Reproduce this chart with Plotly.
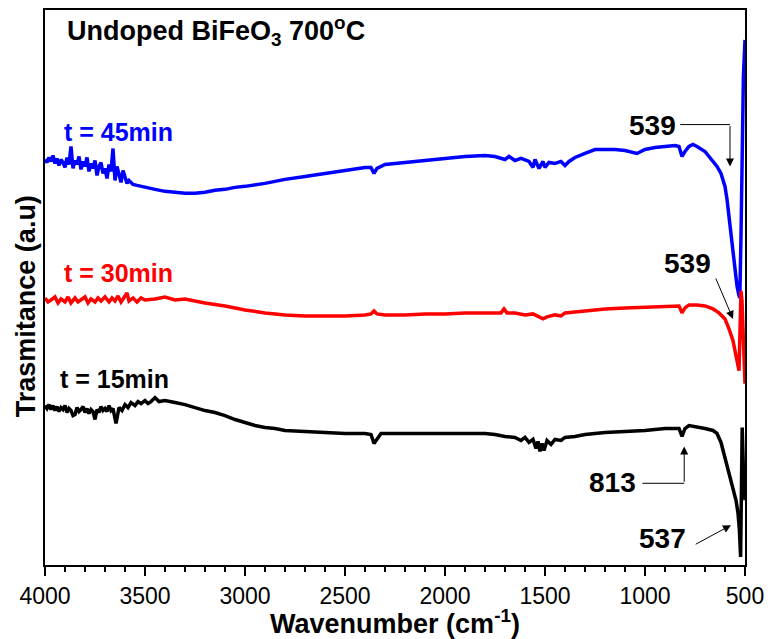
import plotly.graph_objects as go

# Wavenumber (cm^-1) and transmittance (a.u., offset traces)
wn_45 = [4000, 3990, 3980, 3970, 3960, 3950, 3940, 3930, 3920, 3910, 3900, 3890, 3880, 3870, 3860,
         3850, 3840, 3830, 3820, 3810, 3800, 3790, 3780, 3770, 3760, 3750, 3740, 3730, 3720, 3710,
         3700, 3690, 3680, 3670, 3660, 3650, 3640, 3630, 3620, 3610, 3600, 3590, 3580, 3560, 3540,
         3500, 3450, 3400, 3350,
         3300, 3250, 3200, 3150, 3100, 3050, 3000, 2900, 2800, 2700, 2600, 2500, 2400, 2370, 2355,
         2340, 2300, 2200, 2100, 2000, 1900, 1800, 1750, 1700, 1680, 1650, 1620, 1580, 1560, 1550,
         1530, 1510, 1500, 1480, 1450, 1420, 1400, 1380, 1350, 1300, 1250, 1200, 1150, 1100, 1060,
         1040, 1000, 950, 900, 850, 830, 815, 800, 780, 760, 740, 700, 680, 660, 640, 620, 600,
         590, 580, 570, 560, 550, 540, 532, 526, 520, 514, 508, 500]
t_45 = [407, 404, 409, 405, 411, 403, 408, 401, 407, 404, 399, 409, 402, 420, 398,
        406, 402, 410, 397, 405, 400, 409, 395, 403, 398, 406, 391, 400, 404, 393,
        398, 388, 402, 395, 418, 386, 400, 390, 384, 396, 389, 383, 386, 382, 381,
        379, 377, 375, 374,
        373, 373, 374, 376, 377, 379, 380, 383, 387, 390, 393, 396, 399, 399, 393,
        398, 402, 404, 406, 408, 410, 411, 410, 407, 410, 406, 408, 405, 399, 407,
        398, 405, 399, 404, 403, 405, 401, 405, 409, 413, 417, 417, 417, 416, 414,
        413, 417, 419, 420, 421, 420, 410, 415, 420, 422, 420, 415, 410, 405, 400, 393, 380,
        367, 350, 330, 310, 293, 280, 272, 268, 330, 420, 490, 527]

wn_30 = [4000, 3985, 3970, 3950, 3935, 3920, 3900, 3885, 3870, 3850, 3835, 3820, 3800, 3785, 3770,
         3750, 3735, 3720, 3700, 3680, 3665, 3650, 3635, 3620, 3600, 3590, 3580, 3560, 3540, 3520,
         3500, 3450, 3400, 3350, 3300, 3250, 3200, 3100, 3000,
         2900, 2800, 2700, 2600, 2500, 2400, 2370, 2355, 2340, 2300, 2200, 2100, 2000, 1900, 1800,
         1720, 1705, 1690, 1650, 1600, 1560, 1530, 1510, 1490, 1450, 1420, 1400, 1350, 1300, 1250,
         1200, 1100, 1000, 900, 830, 815, 800, 780, 740, 700, 660, 630, 600, 580, 560, 550, 540,
         530, 525, 520, 515, 510, 505, 500]
t_30 = [268, 264, 266, 269, 263, 267, 264, 269, 263, 268, 264, 266, 269, 263, 267,
        264, 268, 265, 269, 264, 268, 265, 270, 264, 270, 273, 265, 268, 264, 268,
        266, 267, 269, 266, 267, 265, 263, 260, 256,
        253, 251, 250, 250, 250, 251, 252, 255, 252, 251, 251, 252, 252, 253, 253,
        253, 257, 253, 253, 251, 252, 249, 247, 249, 251, 250, 253, 254, 255, 256,
        257, 258, 259, 260, 260, 253, 258, 261, 261, 260, 257, 253, 247, 237, 225, 215, 205,
        195, 235, 275, 265, 235, 205, 182]

wn_15 = [4000, 3990, 3980, 3970, 3960, 3950, 3940, 3930, 3920, 3910, 3900, 3890, 3880, 3870, 3860,
         3850, 3840, 3830, 3820, 3810, 3800, 3790, 3780, 3770, 3760, 3750, 3740, 3730, 3720, 3710,
         3700, 3690, 3680, 3670, 3660, 3645, 3630, 3615, 3600, 3585, 3570, 3550, 3535, 3520, 3500,
         3485, 3470, 3450, 3430,
         3400, 3350, 3300, 3250, 3200, 3150, 3100, 3050, 3000, 2950, 2900, 2850, 2800, 2700, 2600,
         2500, 2400, 2370, 2355, 2340, 2320, 2200, 2100, 2000, 1900, 1800, 1750, 1700, 1650, 1620,
         1600, 1580, 1560, 1545, 1535, 1525, 1515, 1505, 1490, 1470, 1450, 1420, 1400, 1350, 1300,
         1250, 1200, 1100, 1000, 900, 830, 815, 800, 780, 750, 700, 660, 640, 620, 600, 580,
         560, 545, 535, 528, 522, 518, 514, 508, 500]
t_15 = [160, 157, 161, 156, 160, 155, 159, 154, 158, 156, 160, 153, 157, 155, 150,
        151, 158, 154, 156, 159, 153, 157, 152, 156, 154, 146, 156, 153, 159, 155,
        157, 154, 160, 155, 157, 142, 158, 155, 161, 158, 163, 160, 164, 162, 165,
        162, 164, 168, 164,
        165, 163, 161, 158, 155, 153, 150, 146, 143, 140, 138, 137, 135, 134, 133,
        132, 132, 131, 122, 127, 132, 132, 132, 132, 132, 132, 131, 129, 128, 125,
        128, 123, 126, 117, 124, 114, 122, 115, 125, 121, 126, 125, 128, 129, 131,
        132, 133, 134, 135, 137, 137, 129, 137, 140, 139, 137, 135, 132, 123, 108, 93,
        78, 65, 52, 35, 8, 70, 138, 95, 65]

x_ticks = [4000, 3500, 3000, 2500, 2000, 1500, 1000, 500]
x_ticklabels = ["4000", "3500", "3000", "2500", "2000", "1500", "1000", "500"]

fig = go.Figure()
fig.add_trace(go.Scatter(x=wn_45, y=t_45, mode="lines", line=dict(color="#0000ff", width=3.5), name="t = 45min"))
fig.add_trace(go.Scatter(x=wn_30, y=t_30, mode="lines", line=dict(color="#ff0000", width=3.5), name="t = 30min"))
fig.add_trace(go.Scatter(x=wn_15, y=t_15, mode="lines", line=dict(color="#000000", width=3.5), name="t = 15min"))

font_b = "Liberation Sans, Arial, sans-serif"

ann = []
ann.append(dict(x=0.028, y=0.962, xref="paper", yref="paper", xanchor="left", yanchor="middle",
                text="<b>Undoped BiFeO<sub>3</sub> 700<sup>o</sup>C</b>", showarrow=False,
                font=dict(size=27, color="black", family=font_b)))
ann.append(dict(x=3915, y=435, xref="x", yref="y", xanchor="left", yanchor="middle",
                text="<b>t = 45min</b>", showarrow=False, font=dict(size=25, color="#0000ff", family=font_b)))
ann.append(dict(x=3915, y=293, xref="x", yref="y", xanchor="left", yanchor="middle",
                text="<b>t = 30min</b>", showarrow=False, font=dict(size=25, color="#ff0000", family=font_b)))
ann.append(dict(x=3935, y=187, xref="x", yref="y", xanchor="left", yanchor="middle",
                text="<b>t = 15min</b>", showarrow=False, font=dict(size=25, color="black", family=font_b)))

num_font = dict(size=28, color="black", family=font_b)
ann.append(dict(x=963, y=441, xref="x", yref="y", text="<b>539</b>", showarrow=False, font=num_font))
ann.append(dict(x=789, y=303, xref="x", yref="y", text="<b>539</b>", showarrow=False, font=num_font))
ann.append(dict(x=1162, y=83, xref="x", yref="y", text="<b>813</b>", showarrow=False, font=num_font))
ann.append(dict(x=913, y=27, xref="x", yref="y", text="<b>537</b>", showarrow=False, font=num_font))

# Y-axis title as rotated annotation
ann.append(dict(x=-0.028, y=0.467, xref="paper", yref="paper", xanchor="center", yanchor="middle",
                text="<b>Trasmitance (a.u)</b>", textangle=-90, showarrow=False,
                font=dict(size=27, color="black", family=font_b)))

arrow_common = dict(xref="x", yref="y", axref="x", ayref="y", text="", showarrow=True,
                    arrowhead=2, arrowsize=1.6, arrowwidth=1, arrowcolor="black")
ann.append(dict(x=575, y=400, ax=575, ay=442, **arrow_common))
ann.append(dict(x=560, y=247, ax=649, ay=289, **arrow_common))
ann.append(dict(x=804, y=119, ax=804, ay=82, **arrow_common))
ann.append(dict(x=570, y=40, ax=754, ay=20, **arrow_common))

shapes = [
    dict(type="line", xref="x", yref="y", x0=824, y0=442, x1=575, y1=442, line=dict(color="black", width=1)),
    dict(type="line", xref="x", yref="y", x0=1013, y0=82, x1=804, y1=82, line=dict(color="black", width=1)),
]

fig.update_layout(
    width=772, height=639,
    margin=dict(l=45, r=24, t=8, b=74),
    paper_bgcolor="white", plot_bgcolor="white",
    showlegend=False,
    annotations=ann, shapes=shapes,
    font=dict(family=font_b, color="black"),
)
fig.update_xaxes(
    range=[4000, 500], tickvals=x_ticks, ticktext=x_ticklabels,
    ticks="outside", ticklen=9, tickwidth=2, tickcolor="black",
    minor=dict(dtick=100, ticks="outside", ticklen=5, tickwidth=1.5, tickcolor="black"),
    showline=True, linecolor="black", linewidth=2, mirror=True,
    showgrid=False, zeroline=False,
    tickfont=dict(size=23, color="black", family=font_b),
    title=dict(text="<b>Wavenumber (cm<sup>-1</sup>)</b>", font=dict(size=27, color="black", family=font_b), standoff=2),
)
fig.update_yaxes(
    range=[0, 557], showticklabels=False, ticks="",
    showline=True, linecolor="black", linewidth=2, mirror=True,
    showgrid=False, zeroline=False,
)

fig.write_html("out.html")
